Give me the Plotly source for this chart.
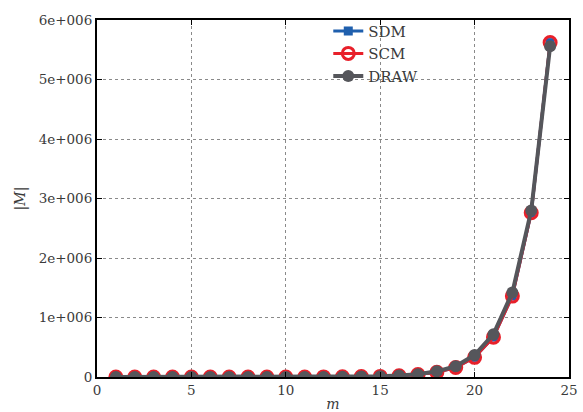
import plotly.graph_objects as go

# Problem size m
m = list(range(1, 25))

# |M| per method
sdm = [1, 2, 4, 8, 16, 32, 64, 128, 256, 512, 1000, 2000, 4000, 8000,
       10000, 20000, 40000, 80000, 160000, 330000, 670000, 1360000, 2760000, 5620000]
scm = [1, 2, 4, 8, 16, 32, 64, 128, 256, 512, 1000, 2000, 4000, 8000,
       10000, 20000, 40000, 80000, 160000, 330000, 670000, 1360000, 2760000, 5620000]
draw = [1, 2, 4, 8, 16, 32, 64, 128, 256, 512, 1000, 2000, 4000, 8000,
        12000, 24000, 48000, 95000, 180000, 370000, 720000, 1420000, 2800000, 5560000]

x_ticks = [0, 5, 10, 15, 20, 25]
y_ticks = [0, 1e6, 2e6, 3e6, 4e6, 5e6, 6e6]
y_tick_text = ["0", "1e+006", "2e+006", "3e+006", "4e+006", "5e+006", "6e+006"]

FONT = "DejaVu Serif"
TXT = "#3a3a3a"

fig = go.Figure()
fig.add_trace(go.Scatter(
    x=m, y=sdm, name="SDM", mode="lines+markers",
    line=dict(color="#1f5fad", width=3),
    marker=dict(symbol="square", size=9, color="#1f5fad"),
))
fig.add_trace(go.Scatter(
    x=m, y=scm, name="SCM", mode="lines+markers",
    line=dict(color="#e8202a", width=3),
    marker=dict(symbol="circle-open", size=12, color="#e8202a", line=dict(width=3)),
))
fig.add_trace(go.Scatter(
    x=m, y=draw, name="DRAW", mode="lines+markers",
    line=dict(color="#55565b", width=4),
    marker=dict(symbol="circle", size=12, color="#55565b"),
))

axis_common = dict(
    showline=True, linecolor="black", linewidth=2, mirror="ticks",
    ticks="inside", ticklen=5, tickcolor="black", tickwidth=1,
    showgrid=True, gridcolor="#8a8a8a", griddash="dot", gridwidth=1,
    zeroline=False, automargin=False,
    tickfont=dict(family=FONT, size=13.5, color=TXT),
)

fig.update_xaxes(
    range=[0, 25], tickvals=x_ticks,
    title=dict(text="<i>m</i>", font=dict(family=FONT, size=14, color=TXT), standoff=7),
    **axis_common,
)
fig.update_yaxes(
    range=[0, 6e6], tickvals=y_ticks, ticktext=y_tick_text,
    title=dict(text="|<i>M</i>|", font=dict(family=FONT, size=14, color=TXT), standoff=10),
    **axis_common,
)

fig.update_layout(
    width=583, height=412,
    margin=dict(l=97, r=14, t=20, b=35),
    plot_bgcolor="white", paper_bgcolor="white",
    legend=dict(
        x=0.49, y=1.015, xanchor="left", yanchor="top",
        bgcolor="rgba(0,0,0,0)", font=dict(family=FONT, size=15, color=TXT),
        tracegroupgap=0, itemwidth=30,
    ),
)

fig.write_html("out.html")
